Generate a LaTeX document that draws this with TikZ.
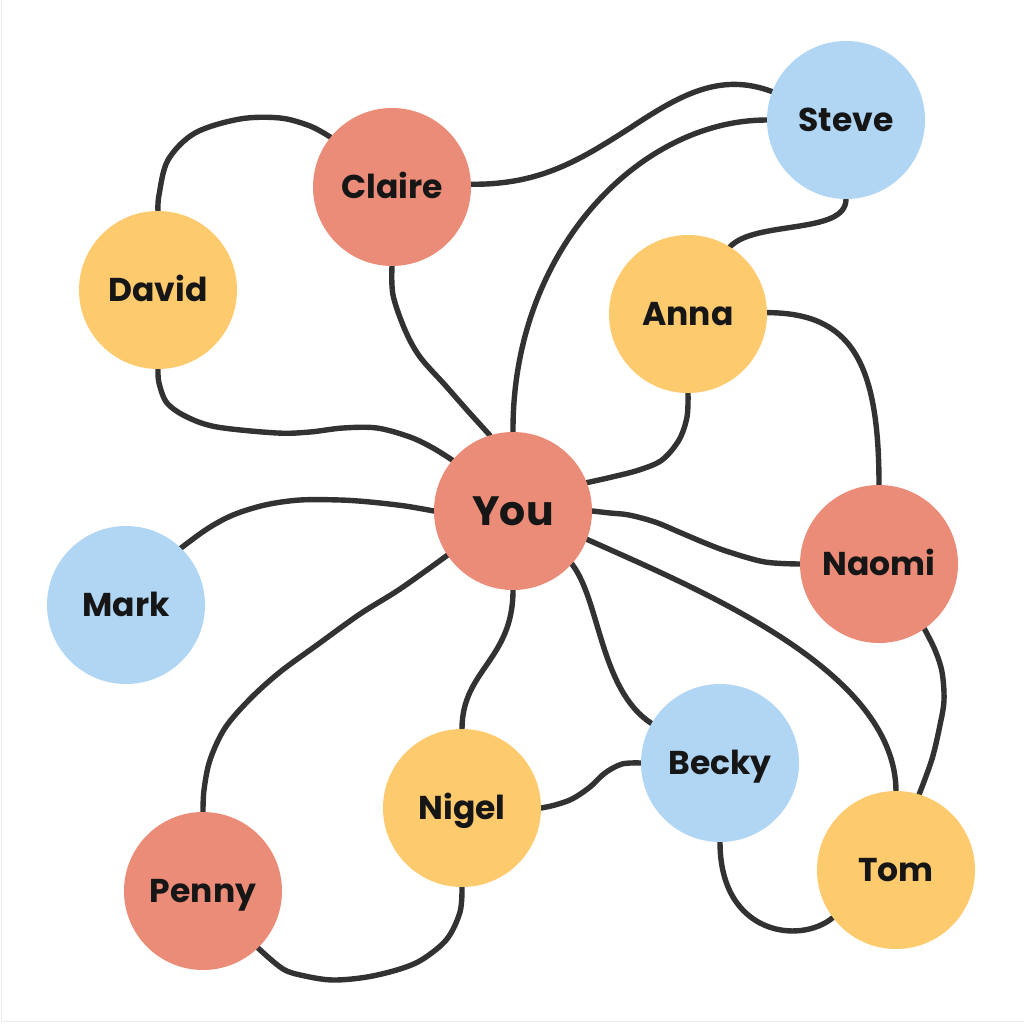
\documentclass[tikz,border=0pt]{standalone}
\usepackage{fontspec}
\setmainfont{Poppins}
\definecolor{salmon}{HTML}{EB8C78}
\definecolor{sun}{HTML}{FECA6E}
\definecolor{sky}{HTML}{B1D6F4}
\definecolor{ink}{HTML}{161616}
\definecolor{wire}{HTML}{323232}
\definecolor{frame}{HTML}{ECECEC}
\pgfdeclarelayer{bg}
\pgfsetlayers{bg,main}
\tikzset{
  person/.style={circle, minimum size=158pt, inner sep=0pt, text=ink,
    font=\fontsize{33}{33}\selectfont\bfseries, text height=23pt, text depth=0pt},
  big/.style={font=\fontsize{41}{41}\selectfont\bfseries, text height=29pt},
  link/.style={draw=wire, line width=5.4pt, line cap=round, smooth, tension=0.55},
}
\begin{document}
\begin{tikzpicture}[x=1pt,y=-1pt]
\useasboundingbox (0,0) rectangle (1024,1024);

\node[person, fill=salmon, big] (you) at (513,511) {You};
\node[person, fill=salmon] (claire) at (392,187) {Claire};
\node[person, fill=sky] (steve) at (846,120) {Steve};
\node[person, fill=sun] (david) at (158,290) {David};
\node[person, fill=sun] (anna) at (688,314) {Anna};
\node[person, fill=sky] (mark) at (126,605) {Mark};
\node[person, fill=salmon] (naomi) at (879,564) {Naomi};
\node[person, fill=sky] (becky) at (720,763) {Becky};
\node[person, fill=sun] (nigel) at (462,808) {Nigel};
\node[person, fill=salmon] (penny) at (203,891) {Penny};
\node[person, fill=sun] (tom) at (896,870) {Tom};

\begin{pgfonlayer}{bg}
\fill[white] (0,0) rectangle (1024,1024);
\draw[frame, line width=1.2pt] (1.2,0) -- (1.2,1021.5) -- (1024,1021.5);
% David - Claire
\draw[link] plot coordinates {(david.90) (159,195) (168,160) (195,133) (240,119) (280,118) (310,126) (claire.141)};
% David - You
\draw[link] plot coordinates {(david.-90) (159,383) (167,403) (187,417) (217,427) (277,433) (310,432) (343,428) (377,428) (410,437) (433,448) (you.140)};
% Claire - You
\draw[link] plot coordinates {(claire.-90) (393,295) (405,330) (420,357) (445,385) (467,410) (you.107)};
% Claire - Steve
\draw[link] (claire.2) .. controls (540,185) and (580,160) .. (630,128)
  .. controls (680,95) and (720,72) .. (steve.159);
% Steve - You
\draw[link] (steve.180) .. controls (640,120) and (512,250) .. (you.90);
% Steve - Anna
\draw[link] (steve.-90) .. controls (846,235) and (755,220) .. (anna.58);
% Anna - You
\draw[link] plot coordinates {(anna.-90) (687,417) (679,440) (662,460) (639,470) (612,477) (you.21)};
% Anna - Naomi
\draw[link] (anna.1) .. controls (850,313) and (879,360) .. (naomi.90);
% You - Naomi
\draw[link] plot coordinates {(you.0) (610,513) (629,515) (655,522) (679,532) (705,543) (729,552) (765,562) (naomi.180)};
% Mark - You
\draw[link] plot coordinates {(mark.46) (207,529) (233,515) (265,505) (300,500) (340,500) (370,502) (405,506) (you.180)};
% You - Penny
\draw[link] plot coordinates {(you.214) (400,589) (360,614) (317,645) (280,672) (250,699) (225,728) (210,760) (204,790) (penny.90)};
% You - Nigel
\draw[link] (you.-90) .. controls (513,660) and (462,670) .. (nigel.90);
% You - Becky
\draw[link] (you.-42) .. controls (600,600) and (600,690) .. (becky.150);
% You - Tom
\draw[link] (you.-21) .. controls (700,590) and (895,670) .. (tom.90);
% Naomi - Tom
\draw[link] plot coordinates {(naomi.-55) (935,650) (942,672) (944,700) (940,725) (932,759) (tom.73)};
% Nigel - Becky
\draw[link] plot coordinates {(nigel.0) (555,805) (572,799) (590,787) (605,773) (622,764) (becky.180)};
% Becky - Tom
\draw[link] (becky.-90) .. controls (720,935) and (800,945) .. (tom.217);
% Nigel - Penny
\draw[link] plot coordinates {(nigel.-90) (460,912) (447,939) (423,959) (400,969) (367,977) (333,980) (305,976) (283,969) (penny.-46)};
\end{pgfonlayer}
\end{tikzpicture}
\end{document}
